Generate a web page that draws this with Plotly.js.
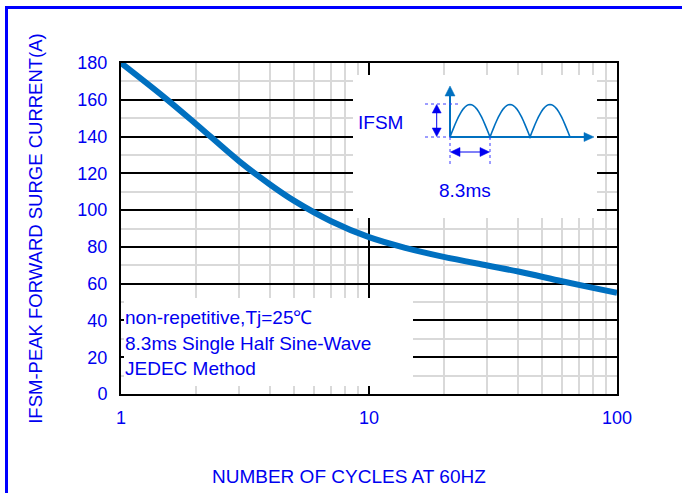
<!DOCTYPE html>
<html>
<head>
<meta charset="utf-8">
<script src="https://cdn.plot.ly/plotly-3.0.1.min.js"></script>
<style>
  html, body { margin: 0; padding: 0; background: #fff; }
  #chart { width: 682px; height: 493px; }
</style>
</head>
<body>
<div id="chart"></div>
<script>
// ---- data ----
const cycles = [1, 1.5, 2, 3, 4, 5, 7, 10, 14, 20, 30, 40, 60, 80, 100];
const ifsm   = [180, 161.2, 147, 126.5, 113.8, 105, 94.1, 85.3, 79.5, 74.6, 69.9, 66.6, 61.3, 57.7, 55];
const xTickVals = [1, 10, 100];
const xTickText = ['1', '10', '100'];
const yTickVals = [0, 20, 40, 60, 80, 100, 120, 140, 160, 180];
const noteLines = ['non-repetitive,Tj=25\u2103', '8.3ms Single Half Sine-Wave', 'JEDEC Method'];
const xTitle = 'NUMBER OF CYCLES AT 60HZ';
const yTitle = 'IFSM-PEAK FORWARD SURGE CURRENT(A)';
const insetLabel = 'IFSM';
const periodLabel = '8.3ms';

// ---- layout helpers (pixel -> paper) ----
const W = 682, H = 493;
const M = {l: 121, r: 65, t: 63, b: 99};
const PW = W - M.l - M.r, PH = H - M.t - M.b;
const px = x => (x - M.l) / PW;
const py = y => (H - M.b - y) / PH;

const FONT = 'Arial, "Liberation Sans", sans-serif';
const TXT = '#0000F0';
const CURVE = '#0070C0';
const GRID_MAJ = '#000000';
const GRID_MIN = '#d9d9d9';

function line(x0, y0, x1, y1, color, width, dash) {
  return {type: 'line', xref: 'paper', yref: 'paper',
    x0: px(x0), y0: py(y0), x1: px(x1), y1: py(y1),
    line: {color: color, width: width, dash: dash || 'solid'}, layer: 'above'};
}
function tri(pts, color) {
  const d = pts.map((p, i) => (i ? 'L' : 'M') + px(p[0]) + ',' + py(p[1])).join(' ') + ' Z';
  return {type: 'path', xref: 'paper', yref: 'paper', path: d,
    fillcolor: color, line: {color: color, width: 0.5}, layer: 'above'};
}
function rect(x0, y0, x1, y1) {
  return {type: 'rect', xref: 'paper', yref: 'paper',
    x0: px(x0), y0: py(y1), x1: px(x1), y1: py(y0),
    fillcolor: '#ffffff', line: {width: 0}, layer: 'above'};
}
// schematic half-sine humps of the inset waveform
function humps(x0, period, n, base, amp) {
  let d = '';
  for (let k = 0; k < n; k++) {
    for (let i = 0; i <= 24; i++) {
      const t = i / 24;
      const x = x0 + (k + t) * period;
      const y = base - amp * Math.sin(Math.PI * t);
      d += ((k === 0 && i === 0) ? 'M' : 'L') + px(x) + ',' + py(y) + ' ';
    }
  }
  return {type: 'path', xref: 'paper', yref: 'paper', path: d,
    line: {color: CURVE, width: 1.6}, layer: 'above'};
}

const shapes = [
  // white panels hiding the grid
  rect(124, 298, 413, 386),
  rect(353, 75, 597, 218),
  // outer blue frame (top and left)
  line(5, 7.5, 700, 7.5, '#0000FF', 3),
  line(6.5, 6, 6.5, 520, '#0000FF', 3),
  // inset axes
  line(450, 137, 450, 95, CURVE, 2),
  tri([[445, 96], [455, 96], [450, 86]], CURVE),
  line(450, 137, 585, 137, CURVE, 2),
  tri([[584, 132.5], [584, 141.5], [594, 137]], CURVE),
  humps(450, 40, 3, 137, 32.5),
  // dotted guides
  line(425, 104, 461, 104, '#3a3aff', 1, 'dot'),
  line(425, 137, 450, 137, '#3a3aff', 1, 'dot'),
  line(450, 137, 450, 167, '#3a3aff', 1, 'dot'),
  line(490, 137, 490, 167, '#3a3aff', 1, 'dot'),
  // vertical double arrow
  line(436.7, 112, 436.7, 129, TXT, 1),
  tri([[432.2, 113], [441.2, 113], [436.7, 104.5]], TXT),
  tri([[432.2, 128], [441.2, 128], [436.7, 136.5]], TXT),
  // horizontal double arrow
  line(459, 152, 481, 152, TXT, 1),
  tri([[460, 147.5], [460, 156.5], [450.5, 152]], TXT),
  tri([[480, 147.5], [480, 156.5], [489.5, 152]], TXT)
];

const annotations = [
  {xref: 'paper', yref: 'paper', x: px(380), y: py(122.7), text: insetLabel, showarrow: false,
   xanchor: 'center', yanchor: 'middle', font: {family: FONT, size: 19, color: TXT}},
  {xref: 'paper', yref: 'paper', x: px(465), y: py(190), text: periodLabel, showarrow: false,
   xanchor: 'center', yanchor: 'middle', font: {family: FONT, size: 19, color: TXT}},
  {xref: 'paper', yref: 'paper', x: px(349), y: py(476), text: xTitle, showarrow: false,
   xanchor: 'center', yanchor: 'middle', font: {family: FONT, size: 19, color: TXT}}
];
const noteY = [317, 343, 368];
noteLines.forEach((t, i) => annotations.push({
  xref: 'paper', yref: 'paper', x: px(123), y: py(noteY[i]), text: t, showarrow: false,
  xanchor: 'left', yanchor: 'middle', font: {family: FONT, size: 19, color: TXT}
}));

const trace = {
  x: cycles, y: ifsm, type: 'scatter', mode: 'lines',
  line: {color: CURVE, width: 6, shape: 'spline', smoothing: 1},
  hoverinfo: 'x+y'
};

const layout = {
  width: W, height: H,
  margin: M,
  paper_bgcolor: '#ffffff', plot_bgcolor: '#ffffff',
  showlegend: false,
  font: {family: FONT, size: 18, color: TXT},
  xaxis: {
    type: 'log', range: [0, 2],
    tickvals: xTickVals, ticktext: xTickText,
    showgrid: true, gridcolor: GRID_MAJ, gridwidth: 2,
    minor: {dtick: 'D1', showgrid: true, gridcolor: GRID_MIN, gridwidth: 2, ticks: ''},
    showline: true, mirror: true, linecolor: '#000', linewidth: 2,
    ticks: '', ticklabelstandoff: 6,
    tickfont: {family: FONT, size: 18, color: TXT},
    zeroline: false, fixedrange: true
  },
  yaxis: {
    range: [0, 180], tickvals: yTickVals,
    showgrid: true, gridcolor: GRID_MAJ, gridwidth: 2,
    minor: {dtick: 10, showgrid: true, gridcolor: GRID_MIN, gridwidth: 2, ticks: ''},
    showline: true, mirror: true, linecolor: '#000', linewidth: 2,
    ticks: '', ticklabelstandoff: 8,
    tickfont: {family: FONT, size: 18, color: TXT},
    title: {text: yTitle, font: {family: FONT, size: 18.5, color: TXT}, standoff: 30},
    zeroline: false, fixedrange: true
  },
  shapes: shapes,
  annotations: annotations
};

Plotly.newPlot('chart', [trace], layout, {staticPlot: true, displayModeBar: false});
</script>
</body>
</html>
